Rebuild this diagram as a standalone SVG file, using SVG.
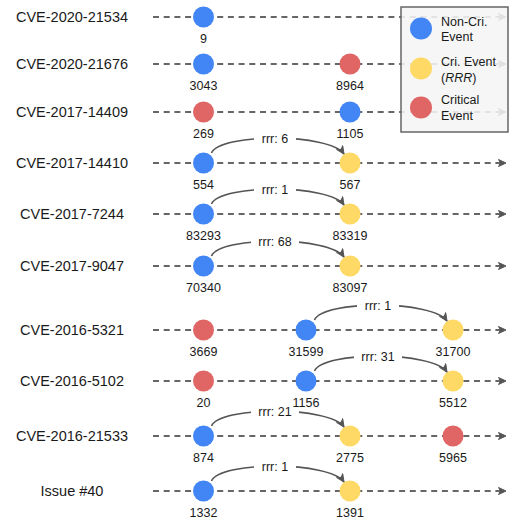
<svg xmlns="http://www.w3.org/2000/svg" width="510" height="521" viewBox="0 0 510 521">
<defs>
<marker id="arr" markerWidth="10" markerHeight="10" refX="8" refY="4" orient="auto" markerUnits="userSpaceOnUse">
<path d="M0.5,0.5 L8,4 L0.5,7.5 L2.5,4 z" fill="#555" stroke="#555" stroke-width="1" stroke-linejoin="miter"/>
</marker>
</defs>
<style>
.tl{stroke:#666;stroke-width:2;stroke-dasharray:6 4.7;fill:none}
.cv{stroke:#555;stroke-width:1.6;fill:none}
.b{fill:#4285f4}.y{fill:#ffd966}.r{fill:#e06666}
.lab{font-family:"Liberation Sans",Arial,sans-serif;font-size:14.5px;fill:#1a1a1a;text-anchor:middle}
.num{font-family:"Liberation Sans",Arial,sans-serif;font-size:12.5px;fill:#1a1a1a;text-anchor:middle}
.lg{font-family:"Liberation Sans",Arial,sans-serif;font-size:12.5px;fill:#1a1a1a}
.bg{fill:#ffffff}
</style>
<rect width="510" height="521" fill="#ffffff"/>
<g id="connectors">
<path class="tl" d="M153,17 H506" marker-end="url(#arr)"/>
<path class="tl" d="M153,64 H506" marker-end="url(#arr)"/>
<path class="tl" d="M153,112 H506" marker-end="url(#arr)"/>
<path class="tl" d="M153,163 H506" marker-end="url(#arr)"/>
<path class="tl" d="M153,214 H506" marker-end="url(#arr)"/>
<path class="tl" d="M153,266 H506" marker-end="url(#arr)"/>
<path class="tl" d="M153,330 H506" marker-end="url(#arr)"/>
<path class="tl" d="M153,381 H506" marker-end="url(#arr)"/>
<path class="tl" d="M153,436 H506" marker-end="url(#arr)"/>
<path class="tl" d="M153,491 H506" marker-end="url(#arr)"/>
<path class="cv" d="M211.5,153 C220,133 330,133 344,154" marker-end="url(#arr)"/>
<path class="cv" d="M211.5,204 C220,184 330,184 344,205" marker-end="url(#arr)"/>
<path class="cv" d="M211.5,256 C220,236 330,236 344,257" marker-end="url(#arr)"/>
<path class="cv" d="M314.5,320 C323,300 433,300 447,321" marker-end="url(#arr)"/>
<path class="cv" d="M314.5,371 C323,351 433,351 447,372" marker-end="url(#arr)"/>
<path class="cv" d="M211.5,426 C220,406 330,406 344,427" marker-end="url(#arr)"/>
<path class="cv" d="M211.5,481 C220,461 330,461 344,482" marker-end="url(#arr)"/>
<rect class="bg" x="254" y="131" width="42" height="15"/>
<text class="num" x="275" y="142.5">rrr: 6</text>
<rect class="bg" x="254" y="182" width="42" height="15"/>
<text class="num" x="275" y="193.5">rrr: 1</text>
<rect class="bg" x="251" y="234" width="48" height="15"/>
<text class="num" x="275" y="245.5">rrr: 68</text>
<rect class="bg" x="357" y="298" width="42" height="15"/>
<text class="num" x="378" y="309.5">rrr: 1</text>
<rect class="bg" x="354" y="349" width="48" height="15"/>
<text class="num" x="378" y="360.5">rrr: 31</text>
<rect class="bg" x="251" y="404" width="48" height="15"/>
<text class="num" x="275" y="415.5">rrr: 21</text>
<rect class="bg" x="254" y="459" width="42" height="15"/>
<text class="num" x="275" y="470.5">rrr: 1</text>
</g>
<g id="row1">
<text class="lab" x="72" y="22">CVE-2020-21534</text>
<circle class="b" cx="203.5" cy="17" r="10.5"/><text class="num" x="203.5" y="42.5">9</text>
</g>
<g id="row2">
<text class="lab" x="72" y="69">CVE-2020-21676</text>
<circle class="b" cx="203.5" cy="64" r="10.5"/><text class="num" x="203.5" y="89.5">3043</text>
<circle class="r" cx="350" cy="64" r="10.5"/><text class="num" x="350" y="89.5">8964</text>
</g>
<g id="row3">
<text class="lab" x="72" y="117">CVE-2017-14409</text>
<circle class="r" cx="203.5" cy="112" r="10.5"/><text class="num" x="203.5" y="137.5">269</text>
<circle class="b" cx="350" cy="112" r="10.5"/><text class="num" x="350" y="137.5">1105</text>
</g>
<g id="row4">
<text class="lab" x="72" y="168">CVE-2017-14410</text>
<circle class="b" cx="203.5" cy="163" r="10.5"/><text class="num" x="203.5" y="188.5">554</text>
<circle class="y" cx="350" cy="163" r="10.5"/><text class="num" x="350" y="188.5">567</text>
</g>
<g id="row5">
<text class="lab" x="72" y="219">CVE-2017-7244</text>
<circle class="b" cx="203.5" cy="214" r="10.5"/><text class="num" x="203.5" y="239.5">83293</text>
<circle class="y" cx="350" cy="214" r="10.5"/><text class="num" x="350" y="239.5">83319</text>
</g>
<g id="row6">
<text class="lab" x="72" y="271">CVE-2017-9047</text>
<circle class="b" cx="203.5" cy="266" r="10.5"/><text class="num" x="203.5" y="291.5">70340</text>
<circle class="y" cx="350" cy="266" r="10.5"/><text class="num" x="350" y="291.5">83097</text>
</g>
<g id="row7">
<text class="lab" x="72" y="335">CVE-2016-5321</text>
<circle class="r" cx="203.5" cy="330" r="10.5"/><text class="num" x="203.5" y="355.5">3669</text>
<circle class="b" cx="306" cy="330" r="10.5"/><text class="num" x="306" y="355.5">31599</text>
<circle class="y" cx="453" cy="330" r="10.5"/><text class="num" x="453" y="355.5">31700</text>
</g>
<g id="row8">
<text class="lab" x="72" y="386">CVE-2016-5102</text>
<circle class="r" cx="203.5" cy="381" r="10.5"/><text class="num" x="203.5" y="406.5">20</text>
<circle class="b" cx="306" cy="381" r="10.5"/><text class="num" x="306" y="406.5">1156</text>
<circle class="y" cx="453" cy="381" r="10.5"/><text class="num" x="453" y="406.5">5512</text>
</g>
<g id="row9">
<text class="lab" x="72" y="441">CVE-2016-21533</text>
<circle class="b" cx="203.5" cy="436" r="10.5"/><text class="num" x="203.5" y="461.5">874</text>
<circle class="y" cx="350" cy="436" r="10.5"/><text class="num" x="350" y="461.5">2775</text>
<circle class="r" cx="453" cy="436" r="10.5"/><text class="num" x="453" y="461.5">5965</text>
</g>
<g id="row10">
<text class="lab" x="72" y="496">Issue #40</text>
<circle class="b" cx="203.5" cy="491" r="10.5"/><text class="num" x="203.5" y="516.5">1332</text>
<circle class="y" cx="350" cy="491" r="10.5"/><text class="num" x="350" y="516.5">1391</text>
</g>
<g id="legend">
<rect x="401" y="7" width="107" height="125" fill="#f5f5f5" fill-opacity="0.88" stroke="#666" stroke-width="1.5"/>
<circle class="b" cx="421" cy="28.5" r="11"/>
<circle class="y" cx="421" cy="68.5" r="11"/>
<circle class="r" cx="421" cy="107.5" r="11"/>
<text class="lg" x="441" y="25.5">Non-Cri.</text>
<text class="lg" x="441" y="40.5">Event</text>
<text class="lg" x="441" y="66">Cri. Event</text>
<text class="lg" x="441" y="81.5">(<tspan font-style="italic">RRR</tspan>)</text>
<text class="lg" x="441" y="104">Critical</text>
<text class="lg" x="441" y="119.5">Event</text>
</g>
</svg>
